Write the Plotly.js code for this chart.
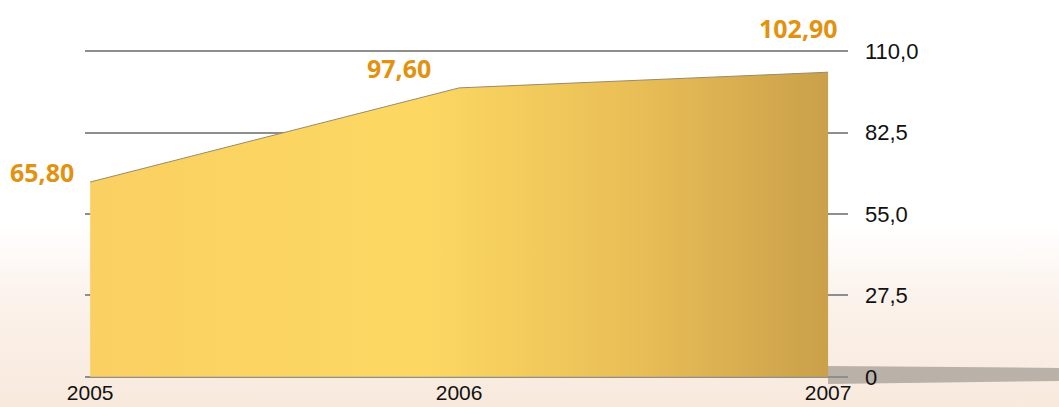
<!DOCTYPE html>
<html>
<head>
<meta charset="utf-8">
<script src="https://cdn.plot.ly/plotly-3.0.1.min.js"></script>
<style>
  html, body { margin: 0; padding: 0; }
  body {
    width: 1059px; height: 407px; overflow: hidden;
    background: linear-gradient(to bottom, #ffffff 0px, #ffffff 225px, #fbf2eb 300px, #f8e9dc 407px);
  }
  #chart { width: 1059px; height: 407px; }
</style>
</head>
<body>
<div id="chart"></div>
<script>
// Data
const years = [2005, 2006, 2007];
const values = [65.8, 97.6, 102.9];
const labelTexts = ["65,80", "97,60", "102,90"];
const yTickVals = [0, 27.5, 55, 82.5, 110];
const yTickText = ["0", "27,5", "55,0", "82,5", "110,0"];
const xTickVals = [2005, 2006, 2007];
const xTickText = ["2005", "2006", "2007"];

const labelShift = [
  {xs: -48, ys: 10},
  {xs: -60, ys: 20},
  {xs: -30, ys: 44}
];

const trace = {
  x: years,
  y: values,
  type: 'scatter',
  mode: 'lines',
  fill: 'tozeroy',
  line: {color: '#9a8a6a', width: 1},
  fillgradient: {
    type: 'horizontal',
    colorscale: [
      [0, '#fad062'],
      [0.45, '#fcd862'],
      [0.75, '#e8bd56'],
      [1, '#caa04a']
    ]
  },
  hoverinfo: 'skip'
};

const annotations = years.map((yr, i) => ({
  x: yr, y: values[i], xref: 'x', yref: 'y',
  text: labelTexts[i], showarrow: false,
  xanchor: 'center', yanchor: 'middle',
  xshift: labelShift[i].xs, yshift: labelShift[i].ys,
  font: {family: 'Open Sans, Liberation Sans, sans-serif', size: 25, color: '#e2920e', weight: 700}
}));

const layout = {
  width: 1059, height: 407,
  margin: {l: 85, r: 211, t: 50, b: 29},
  paper_bgcolor: 'rgba(0,0,0,0)',
  plot_bgcolor: 'rgba(0,0,0,0)',
  showlegend: false,
  separators: ',.',
  xaxis: {
    range: [2004.986, 2007.054],
    tickvals: xTickVals, ticktext: xTickText,
    showgrid: false, zeroline: false, showline: false,
    ticks: '', ticklabelstandoff: 0,
    tickfont: {family: 'Liberation Sans, Arial, sans-serif', size: 21, color: '#111'}
  },
  yaxis: {
    range: [-0.4, 110.4], side: 'right',
    tickvals: yTickVals, ticktext: yTickText,
    showgrid: true, gridcolor: '#8e8e8e', gridwidth: 2,
    zeroline: false, showline: false, ticks: '',
    ticklabelstandoff: 16,
    tickfont: {family: 'Liberation Sans, Arial, sans-serif', size: 22, color: '#111'}
  },
  shapes: [{
    type: 'path', xref: 'paper', yref: 'paper', layer: 'below',
    path: 'M 0.9738 0.0368 L 1.2765 0.0307 L 1.2765 -0.0092 L 0.9738 -0.0184 Z',
    fillcolor: '#bab1a9', line: {width: 0}
  }],
  annotations: annotations
};

Plotly.newPlot('chart', [trace], layout, {displayModeBar: false, staticPlot: true});
</script>
</body>
</html>
